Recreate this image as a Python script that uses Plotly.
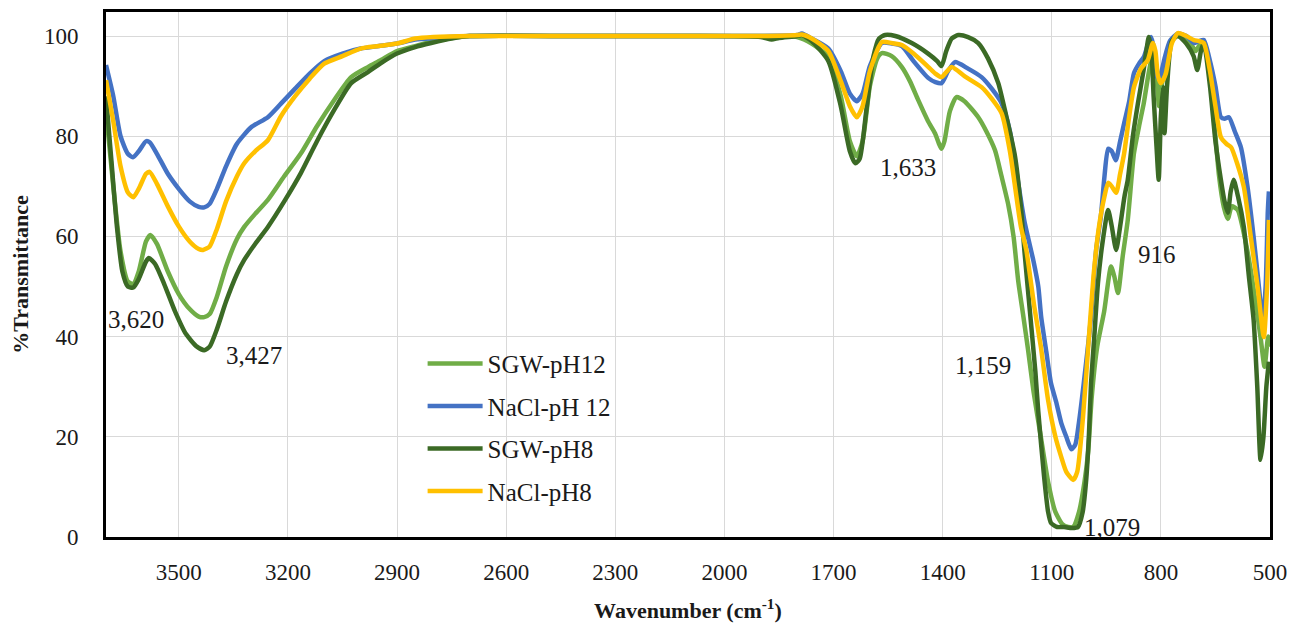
import plotly.graph_objects as go

# ---------------- data ----------------
sgw12_x = [3700,3680,3660,3640,3625,3610,3590,3578,3560,3530,3500,3470,3445,3430,3415,3395,3370,3340,3320,3290,3255,3210,3164,3120,3073,3026,2980,2944,2900,2850,2806,2750,2700,2400,2100,1900,1800,1760,1714,1680,1655,1636,1620,1600,1580,1567,1540,1512,1490,1467,1440,1421,1410,1403,1395,1380,1362,1340,1302,1280,1256,1238,1220,1205,1192,1178,1165,1150,1130,1110,1090,1070,1055,1041,1025,1010,1000,990,975,956,937,928,918,905,891,874,860,847,835,827,820,812,805,798,790,775,760,745,720,705,690,680,665,650,640,627,616,605,589,570,553,540,526,515,505,500]
sgw12_y = [85,70,57,51,50.5,53,59,60.3,58.5,53,48.5,45.5,44,43.9,44.5,48,54,59.5,61.9,64.5,67.3,72,76.6,82,87.2,91.8,93.8,95.2,97,98,98.8,99.6,100,100,100,100,99.8,98.5,95.8,88,79,76,79,90,95.5,96.6,96,93.8,91,87.2,83,80.6,78.5,77.5,79,85,87.8,87,83.8,81,77.2,72,66.5,60,51,44,37.3,29,20,11,5,2.5,2,2,5,11,17,28,38,45,54,52,48.7,56,63.3,76.6,82,86.6,92,95,96.5,92,86,90,93,98,100,99.8,98.8,97,98.5,98,92,80,72,65.9,63.5,66,65.3,60,53.3,47,39.9,34,40,38]

nacl12_x = [3700,3680,3660,3640,3626,3610,3590,3580,3560,3530,3500,3470,3445,3430,3415,3395,3370,3340,3301,3255,3219,3180,3140,3100,3050,3000,2950,2900,2850,2800,2700,2400,2100,1900,1800,1787,1760,1714,1680,1655,1636,1620,1600,1567,1540,1512,1480,1439,1420,1403,1385,1366,1330,1293,1265,1238,1215,1195,1175,1150,1137,1129,1115,1102,1088,1074,1060,1046,1035,1025,1012,992,978,965,955,945,935,924,912,901,887,874,860,847,835,827,818,812,805,798,790,775,753,730,709,695,682,665,650,635,625,613,597,580,562,545,532,520,512,506,503]
nacl12_y = [94.2,88,80,76.5,75.8,77,79,78.8,76.5,72.5,69.5,67,65.9,65.8,66.5,69.5,74,78.5,81.8,83.8,86.5,89.5,92.5,95,96.5,97.5,98,98.5,99.3,99.6,100,100,100,100,100.2,100.5,99.5,97.5,93,88.5,87,88.5,94,98.6,98.5,98,95,91.6,90.8,90.6,93,94.8,93.5,91.8,89.5,86.6,81,72,63,55,50,43.9,37,30.7,27,22.8,20,17.5,18.5,23,30.7,43.9,57.3,64,72,77.5,77,75.2,79,82.6,87,92.6,94.5,95.8,98.5,99.8,97,92,91.5,93,95.5,99,100.5,100,98.6,99,99.2,95,90,83.8,83.5,83.8,81,77.8,70,59.9,51,43.3,50,65,69]

sgw8_x = [3700,3685,3670,3655,3640,3625,3610,3590,3582,3565,3540,3510,3480,3450,3430,3415,3395,3370,3340,3320,3290,3255,3210,3164,3120,3073,3026,2980,2944,2900,2850,2806,2750,2700,2400,2100,1900,1870,1850,1800,1787,1760,1714,1680,1655,1640,1628,1610,1590,1575,1558,1530,1485,1440,1415,1403,1390,1375,1357,1330,1302,1275,1247,1225,1201,1185,1175,1160,1145,1137,1121,1110,1102,1085,1066,1045,1028,1015,1006,998,992,983,973,960,945,935,923,912,900,891,877,863,848,833,826,820,812,806,800,794,790,783,770,753,730,710,700,690,682,665,650,635,625,616,608,600,588,572,558,545,535,526,518,510,503]
sgw8_y = [88,75,62,53,50,49.8,51.5,55,55.7,54.5,50.5,45,40.5,38,37.3,38,41.5,47,52.5,55.3,58.5,61.9,67,72.7,79,85.2,90.6,92.8,94.6,96.5,97.8,98.6,99.5,100,100,100,99.8,99.3,99.6,100,100.2,99,95,86,77,74.6,75.5,85,96,99.5,100.2,100,98.6,96.5,95,94,97,99.5,100.2,99.8,98.6,95.5,90.6,84,76,66,57,45,33,25,12,5,2.8,2,2,1.8,2,5,10.8,20,30.7,40,50.7,59,65.3,62,57.3,62,68,71.3,80,86.6,93,99.8,97,88,78,71.3,84,89.8,80.6,90,99,100,98.5,96,93.2,97,98.6,90,79,71.3,67,64.7,69,71.3,68,61.9,52,43.3,30,15.4,20,30,35]

nacl8_x = [3700,3680,3660,3640,3625,3610,3590,3580,3560,3530,3500,3470,3445,3433,3415,3395,3370,3340,3320,3290,3255,3219,3180,3140,3100,3050,3000,2950,2900,2850,2800,2700,2400,2100,1900,1800,1787,1760,1714,1680,1655,1636,1620,1600,1567,1540,1512,1480,1439,1420,1403,1390,1375,1340,1293,1265,1238,1215,1201,1185,1170,1148,1130,1110,1090,1074,1060,1041,1030,1014,997,984,970,955,945,935,923,912,901,887,874,855,836,822,815,808,800,792,786,770,753,730,709,695,682,665,650,635,620,607,590,572,553,534,517,508,503]
nacl8_y = [91.2,83,74,68.8,67.8,69.5,72.5,72.9,70.5,66,62,59,57.5,57.3,58,61.5,67,72,74.6,77,79.2,84,88,91.5,94.5,96,97.5,98,98.5,99.5,99.8,100,100,100,100,100.2,100.3,99.5,97,91,86,83.8,86,93,98.8,98.6,98.2,96.5,93.8,92.5,91.8,92.8,93.8,92,89.8,87.5,84.6,77,70,62,57.3,46,38,27.3,20,16,13,11.4,13,24,40.7,53,62,68,70.7,70,68.7,72.5,76.6,84,89.8,93.5,95.2,98.6,97,92,90.6,91.5,92.6,98.5,100.6,100,99.2,99,98.6,93,86,79.8,78.5,77.8,74.5,69.9,60,49.9,39.9,50,63.3]

series_names = ["SGW-pH12", "NaCl-pH 12", "SGW-pH8", "NaCl-pH8"]
series_colors = ["#70AD47", "#4472C4", "#3B6A25", "#FFC000"]
series_x = [sgw12_x, nacl12_x, sgw8_x, nacl8_x]
series_y = [sgw12_y, nacl12_y, sgw8_y, nacl8_y]

x_ticks = [3500, 3200, 2900, 2600, 2300, 2000, 1700, 1400, 1100, 800, 500]
y_ticks = [0, 20, 40, 60, 80, 100]

peak_labels = ["3,620", "3,427", "1,633", "1,159", "916", "1,079"]
peak_x = [3617, 3293, 1494, 1288, 811, 934]
peak_y = [43.5, 36.3, 73.7, 34.3, 56.3, 1.8]

FONT = "Liberation Serif, Times New Roman, serif"
TXT = "#1a1a1a"

fig = go.Figure()
for name, col, xs, ys in zip(series_names, series_colors, series_x, series_y):
    fig.add_trace(go.Scatter(
        x=xs, y=ys, mode="lines", name=name, legendgroup=name,
        line=dict(color=col, width=4.5, shape="spline", smoothing=0.6),
    ))

for t, xv, yv in zip(peak_labels, peak_x, peak_y):
    fig.add_annotation(x=xv, y=yv, xref="x", yref="y", text=t, showarrow=False,
                       font=dict(family=FONT, size=25, color=TXT))

fig.update_layout(
    width=1293, height=623,
    margin=dict(l=106, r=23, t=12, b=86),
    paper_bgcolor="white", plot_bgcolor="white",
    font=dict(family=FONT, size=22, color=TXT),
    showlegend=True,
    legend=dict(x=0.272, y=0.374, xanchor="left", yanchor="top",
                bgcolor="rgba(255,255,255,0)", font=dict(family=FONT, size=25, color=TXT),
                tracegroupgap=7, itemwidth=55),
    xaxis=dict(range=[3700, 500], tickvals=x_ticks, ticktext=[str(v) for v in x_ticks],
               showgrid=True, gridcolor="#D9D9D9", gridwidth=1,
               showline=True, linecolor="black", linewidth=3, mirror=True,
               ticks="", ticklabelstandoff=12, zeroline=False, automargin=False,
               tickfont=dict(family=FONT, size=23, color=TXT),
               title=dict(text="<b>Wavenumber (cm<sup>-1</sup>)</b>", standoff=20,
                          font=dict(family=FONT, size=22, color=TXT))),
    yaxis=dict(range=[0, 104.8], tickvals=y_ticks,
               showgrid=True, gridcolor="#D9D9D9", gridwidth=1,
               showline=True, linecolor="black", linewidth=3, mirror=True,
               ticks="", ticklabelstandoff=20, zeroline=False, automargin=False,
               tickfont=dict(family=FONT, size=23, color=TXT),
               title=dict(text="<b>%Transmittance</b>", standoff=10,
                          font=dict(family=FONT, size=22, color=TXT))),
)

fig.write_html("out.html")
